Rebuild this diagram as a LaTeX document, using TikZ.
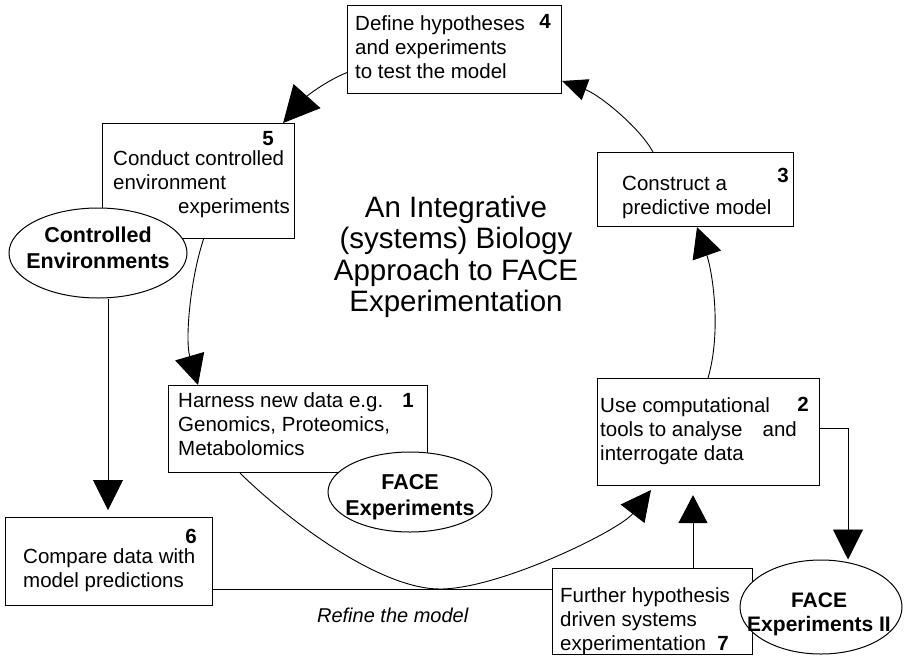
\documentclass[tikz,border=0pt]{standalone}
\usepackage{fontspec}
\setmainfont{Liberation Sans}
\usetikzlibrary{arrows.meta,shapes.geometric}
\begin{document}
\begin{tikzpicture}[x=1pt,y=-1pt,
  box/.style={draw, line width=1.1pt, inner sep=0pt, anchor=north west},
  txt/.style={font=\fontsize{20.5}{24}\selectfont, align=left, inner sep=0pt, anchor=north west},
  num/.style={font=\bfseries\fontsize{20.5}{24}\selectfont, inner sep=0pt, anchor=base},
  oval/.style={draw, fill=white, line width=1pt, ellipse, inner sep=0pt},
  ovaltxt/.style={inner sep=0pt, align=center, font=\bfseries\fontsize{21.5}{26}\selectfont},
  conn/.style={line width=0.9pt},
  bigarrow/.style={conn, -{Triangle[length=30pt,width=30pt]}},
]
\useasboundingbox (0,0) rectangle (909,656);
\fill[white] (0,0) rectangle (909,656);

% boxes
\node[box, minimum width=214pt, minimum height=88pt] (b4) at (347,5) {};
\node[box, minimum width=192pt, minimum height=115pt] (b5) at (102,123) {};
\node[box, minimum width=196pt, minimum height=74pt] (b3) at (597,152) {};
\node[box, minimum width=259pt, minimum height=87pt] (b1) at (168,385) {};
\node[box, minimum width=222pt, minimum height=107pt] (b2) at (597,378) {};
\node[box, minimum width=207pt, minimum height=88pt] (b6) at (5,517) {};
\node[box, minimum width=200pt, minimum height=86pt] (b7) at (552,568) {};

% box texts
\node[txt] (t4) at (355,13.2) {\strut Define hypotheses\\and experiments\\to test the model};
\node[txt] (t5) at (113,148.2) {\strut Conduct controlled\\environment\\\hspace*{65pt}experiments};
\node[txt] (t3) at (622,173.2) {\strut Construct a\\predictive model};
\node[txt] (t1) at (178,390.2) {\strut Harness new data e.g.\\Genomics, Proteomics,\\Metabolomics};
\node[txt] (t2) at (600,395.2) {\strut Use computational\\tools to analyse\hspace{20pt}and\\interrogate data};
\node[txt] (t6) at (23,546.2) {\strut Compare data with\\model predictions};
\node[txt] (t7) at (560,585.2) {\strut Further hypothesis\\driven systems\\experimentation};

% step numbers
\node[num] (n4) at (545,28) {4};
\node[num] (n5) at (268,145) {5};
\node[num] (n3) at (783,182) {3};
\node[num] (n1) at (408,407) {1};
\node[num] (n2) at (803,411) {2};
\node[num] (n6) at (191,543) {6};
\node[num] (n7) at (723,650) {7};

% ovals (drawn over the boxes)
\node[oval, minimum width=178pt, minimum height=90pt] (ce) at (98,253) {};
\node[oval, minimum width=164pt, minimum height=80pt] (fe) at (410,492) {};
\node[oval, minimum width=162pt, minimum height=94pt] (f2) at (821,607) {};
\node[ovaltxt] (cet) at (98,248) {Controlled\\Environments};
\node[ovaltxt] (fet) at (410,497) {FACE\\Experiments};
\node[ovaltxt, font=\bfseries\fontsize{21}{24}\selectfont] (f2t) at (819,614) {FACE\\Experiments II};

% title
\node[font=\fontsize{29.5}{31.5}\selectfont, align=center, inner sep=0pt] (title) at (456,257)
  {An Integrative\\(systems) Biology\\Approach to FACE\\Experimentation};

% straight connectors
\draw[bigarrow, shorten >=7pt] ([xshift=10pt]ce.south) -- ([xshift=10pt]ce.south |- b6.north);
\draw[conn] ([yshift=-28pt]b6.east) -- ([yshift=-28pt]b6.east -| b7.west)
  node[pos=0.53, below=18pt, inner sep=0pt, font=\itshape\fontsize{20}{24}\selectfont] (refine) {Refine the model};
\draw[conn, -{Triangle[length=28pt,width=29pt]}, shorten >=9pt] ([xshift=141pt]b7.north west) -- ([xshift=141pt]b7.north west |- b2.south);
\draw[bigarrow] ([yshift=3.5pt]b2.east) -| ([xshift=27pt]f2.north);

% cycle connectors
\draw[bigarrow] ([xshift=5pt]b5.south) .. controls (190,280) and (185,340) .. ([xshift=30pt]b1.north west);
\draw[bigarrow, shorten >=5pt] ([xshift=72pt]b1.south west) .. controls (290,522) and (380,589) .. (440,589)
  .. controls (500,589) and (620,530) .. ([xshift=57pt]b2.south west);
\draw[bigarrow] ([xshift=111pt]b2.north west) .. controls (722,330) and (712,270) .. ([xshift=100pt]b3.south west);
\draw[conn, -{Triangle[length=25pt,width=22pt]}] ([xshift=56pt]b3.north west) .. controls (640,128) and (600,95) .. ([yshift=-76pt]b4.north east);
\draw[conn, -{Triangle[length=36pt,width=36pt]}] ([yshift=-23pt]b4.west) .. controls (328,80) and (308,95) .. ([xshift=-12pt]b5.north east);
\end{tikzpicture}
\end{document}
